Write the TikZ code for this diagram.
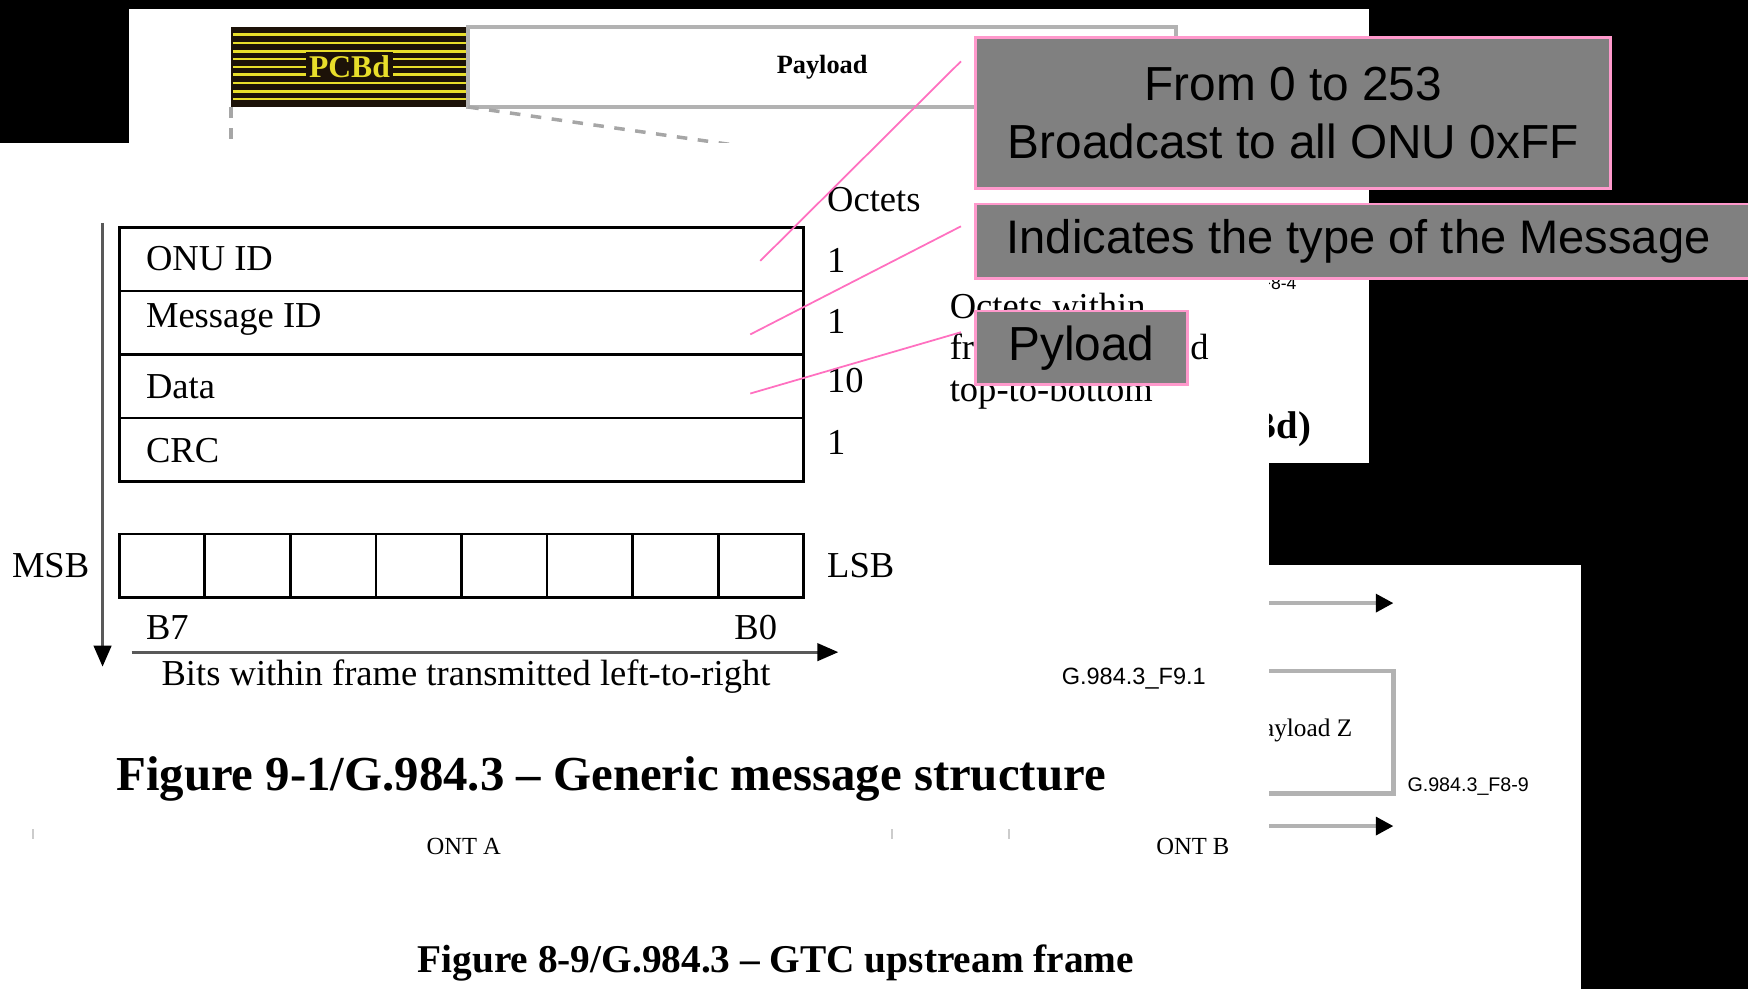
\documentclass[tikz,border=0pt]{standalone}
\usepackage{fontspec}
\setmainfont{Liberation Serif}
\setsansfont{Liberation Sans}
\usetikzlibrary{arrows.meta,positioning}
\usepackage{xcolor}
\definecolor{callout}{HTML}{808080}
\definecolor{calloutedge}{HTML}{FF99CC}
\definecolor{pinkline}{HTML}{FF70C0}
\definecolor{pcbdfill}{HTML}{1C1208}
\definecolor{pcbdstripe}{HTML}{E8DE2A}
\newlength{\upx}
\setlength{\upx}{0.011148cm}

\begin{document}
\begin{tikzpicture}[
  x=\upx, y=-\upx,
  every node/.style={inner sep=0pt, outer sep=0pt},
  body/.style={font=\fontsize{10.4}{11.7}\selectfont},
  field/.style={draw, line width=0.8pt, minimum width=614\upx, minimum height=57\upx},
  bitcell/.style={draw, line width=0.8pt, minimum width=76.75\upx, minimum height=57\upx},
  sheet/.style={fill=white},
  callbox/.style={draw=calloutedge, line width=0.8pt, fill=callout,
                  font=\sffamily\fontsize{13.6}{16.5}\selectfont},
  pin/.style={draw=pinkline, line width=0.5pt},
  arr/.style={-{Triangle[length=6pt, width=5pt, color=black]}, gray!70!black, line width=0.8pt},
  smallarr/.style={-{Triangle[length=5pt, width=5pt, color=black]}, gray!60, line width=1.2pt},
  tag/.style={font=\sffamily\fontsize{6.7}{8}\selectfont},
]
\useasboundingbox (0,0) rectangle (1568,887);
\fill[black] (0,0) rectangle (1568,887);

%% Sheet C: GTC upstream frame
\fill[sheet] (0,507) rectangle (1418,887);
\coordinate (upA) at (1100,541);
\coordinate (upB) at (1250,541);
\coordinate (lowA) at (1100,741);
\coordinate (lowB) at (1250,741);
\draw[smallarr] (upA) -- (upB);
\draw[smallarr] (lowA) -- (lowB);
\draw[gray!60, line width=1.3pt] (1100,602) -- (1250,602) -- (1250,712) -- (1100,712);
\node[anchor=east, font=\fontsize{7.2}{8}\selectfont] (payz) at (1213,655) {Payload Z};
\node[tag, font=\sffamily\fontsize{5.6}{7}\selectfont] (f89) at (1317,706) {G.984.3\_F8-9};
\node[font=\fontsize{7}{8}\selectfont] (onta) at (416,759) {ONT A};
\node[font=\fontsize{7}{8}\selectfont] (ontb) at (1070,759) {ONT B};
\foreach \tx in {30,800,905}
  \draw[gray!40, line width=0.6pt] (\tx,744) -- (\tx,753);
\node[font=\bfseries\fontsize{11.2}{13}\selectfont] (cap89) at (696,864)
  {Figure 8-9/G.984.3 \textendash\ GTC upstream frame};

%% Sheet A: downstream frame with PCBd
\fill[sheet] (116,8) rectangle (1228,415);
\node[fill=pcbdfill, minimum width=213\upx, minimum height=72\upx] (pcbd) at (313.5,60) {};
\foreach \sy in {31,38.5,46,53,60,67,74.5,82,89}
  \draw[pcbdstripe, line width=0.7pt] (209,\sy) -- (418,\sy);
\node[fill=pcbdfill, inner sep=1pt, text=pcbdstripe, font=\bfseries\fontsize{9}{10}\selectfont]
  (pcbdtext) at (pcbd) {PCBd};
\node[draw=gray!60, line width=1.2pt, minimum width=635\upx, minimum height=72\upx,
      right=0pt of pcbd, font=\bfseries\fontsize{7.5}{9}\selectfont] (payload) {Payload};
\draw[gray!70, dashed, line width=1pt] (pcbd.south west) -- ++(0,50);
\draw[gray!70, dashed, line width=1pt] (pcbd.south east) -- (700,136);
\node[anchor=east, font=\sffamily\fontsize{5}{6}\selectfont] (f84) at (1163,256) {G.984.3\_F8-4};
\node[anchor=east, font=\bfseries\fontsize{11}{13}\selectfont] (capPCBd) at (1176,385) {(PCBd)};

%% Sheet B: generic message structure
\fill[sheet] (0,128) rectangle (1138,744);
\node[field] (onu) at (414,232.5) {};
\node[field, below=0pt of onu] (msg) {};
\node[field, below=0pt of msg] (data) {};
\node[field, below=0pt of data] (crc) {};
\node[body, anchor=west] (onulbl) at (131,232) {ONU ID};
\node[body, anchor=west] (msglbl) at (131,287) {Message ID};
\node[body, anchor=west] (datalbl) at (131,347) {Data};
\node[body, anchor=west] (crclbl) at (131,404) {CRC};

\node[body, anchor=west] (octets) at (742,179) {Octets};
\node[body, anchor=west] (n1) at (742,234) {1};
\node[body, anchor=west] (n2) at (742,288) {1};
\node[body, anchor=west] (n3) at (742,341) {10};
\node[body, anchor=west] (n4) at (742,397) {1};

\foreach \i in {0,...,7}
  \node[bitcell] (bit\i) at ({107+76.75*(\i+0.5)},507.5) {};
\node[body, anchor=east] (msb) at (80,507) {MSB};
\node[body, anchor=west] (lsb) at (742,507) {LSB};
\node[body, anchor=west] (b7) at (131,563) {B7};
\node[body, anchor=east] (b0) at (697,563) {B0};

\coordinate (rowtop) at (92,200);
\coordinate (rowend) at (92,598);
\coordinate (bitstart) at (118,585);
\coordinate (bitend) at (752,585);
\draw[arr] (rowtop) -- (rowend);
\draw[arr] (bitstart) -- (bitend);
\node[body] (bitsdir) at (418,607) {Bits within frame transmitted left-to-right};
\node[body, anchor=west, align=left] (octdir) at (852,315)
  {Octets within\\frame transmitted\\top-to-bottom};
\node[tag] (f91) at (1017,609) {G.984.3\_F9.1};
\node[font=\bfseries\fontsize{13.9}{16}\selectfont] (cap91) at (548,699)
  {Figure 9-1/G.984.3 \textendash\ Generic message structure};

%% Callouts
\node[callbox, minimum width=570\upx, minimum height=135\upx, align=center] (bcast) at (1160,101.5)
  {From 0 to 253\\Broadcast to all ONU 0xFF};
\node[callbox, anchor=west, minimum height=67\upx, text width=672\upx, inner xsep=28\upx,
      align=flush left, font=\sffamily\fontsize{13.4}{16}\selectfont] (msgtype) at (875,216.5)
  {Indicates the type of the Message};
\node[callbox, minimum width=190\upx, minimum height=66\upx] (pyload) at (970,312) {Pyload};

\coordinate (onupin) at (682,234);
\coordinate (msgpin) at (673,300);
\coordinate (datapin) at (673,353);
\coordinate (bcastpin) at (862,55);
\coordinate (typepin) at (862,203);
\coordinate (pyloadpin) at (862,298);
\draw[pin] (bcastpin) -- (onupin);
\draw[pin] (typepin) -- (msgpin);
\draw[pin] (pyloadpin) -- (datapin);

\end{tikzpicture}
\end{document}
